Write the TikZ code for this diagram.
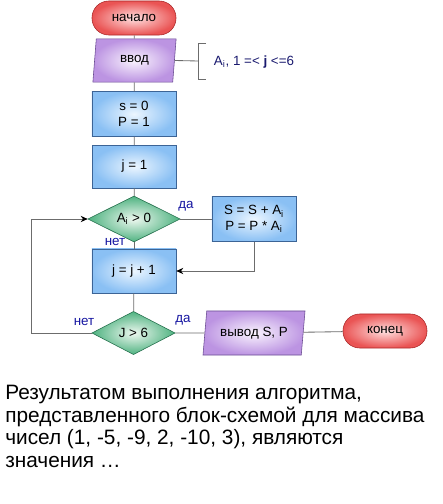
\documentclass[tikz,border=0pt]{standalone}
\usepackage{fontspec}
\setmainfont{Liberation Sans}
\usetikzlibrary{shapes.geometric,arrows.meta}

\definecolor{termout}{RGB}{234,84,84}
\definecolor{termin}{RGB}{255,225,225}
\definecolor{termedge}{RGB}{170,40,40}
\definecolor{ioout}{RGB}{188,148,226}
\definecolor{ioin}{RGB}{250,244,254}
\definecolor{ioedge}{RGB}{105,75,145}
\definecolor{opout}{RGB}{138,192,244}
\definecolor{opin}{RGB}{236,246,255}
\definecolor{opedge}{RGB}{60,100,150}
\definecolor{ifout}{RGB}{78,178,128}
\definecolor{ifin}{RGB}{238,248,240}
\definecolor{ifedge}{RGB}{35,110,75}
\definecolor{yesno}{RGB}{20,20,160}
\definecolor{note}{RGB}{25,25,110}

\begin{document}
\begin{tikzpicture}[x=0.025cm,y=-0.025cm,
  every node/.style={font=\fontsize{9.5}{11}\selectfont},
  term/.style={draw=termedge,rounded corners=0.42cm,minimum width=2.1cm,minimum height=0.85cm,inner color=termin,outer color=termout},
  iobox/.style={trapezium,trapezium left angle=80,trapezium right angle=100,trapezium stretches body,draw=ioedge,inner color=ioin,outer color=ioout,minimum height=1.08cm},
  opbox/.style={draw=opedge,minimum width=2.1cm,inner color=opin,outer color=opout,align=center},
  ifbox/.style={diamond,draw=ifedge,inner color=ifin,outer color=ifout,inner sep=0pt},
  flow/.style={draw=gray!85!black,line width=0.6pt},
  arr/.style={flow,-{Stealth[length=5pt,width=4.5pt,black]}},
  yn/.style={text=yesno}
]
\useasboundingbox (0,0) rectangle (442,504);

\node[term] (start) at (134,18) {начало};
\node[iobox,minimum width=2.08cm] (input) at (134.5,60.5) {ввод};
\node[opbox,minimum height=1.12cm] (init) at (134,114) {s = 0\\P = 1};
\node[opbox,minimum height=1.07cm] (jone) at (134.5,166.5) {j = 1};
\node[ifbox,minimum width=2.3cm,minimum height=1.05cm] (condA) at (134,219) {A\textsubscript{i} > 0};
\node[opbox,minimum height=1.12cm] (upd) at (254,219) {S = S + A\textsubscript{i}\\P = P * A\textsubscript{i}};
\node[opbox,minimum height=1.1cm] (jinc) at (134,271) {j = j + 1};
\node[ifbox,minimum width=2.08cm,minimum height=1.08cm] (condJ) at (133.5,333) {J > 6};
\node[iobox,minimum width=2.55cm,minimum height=1.1cm] (output) at (254,333) {вывод S, P};
\node[term] (stop) at (385,331) {конец};

\node[yn] (yesA) at (186,206) {да};
\node[yn] (noA) at (115,242) {нет};
\node[yn] (noJ) at (84,322) {нет};
\node[yn] (yesJ) at (183,320) {да};

% comment bracket
\coordinate (brk) at (198,61);
\draw[flow] (input.east) -- (brk);
\draw[flow] (206,43) -- (198,43) -- (198,79) -- (206,79);
\node[anchor=west,text=note] (arr) at (209,62) {A\textsubscript{i}, 1 =< \textbf{j} <=6};

\draw[flow] (start) -- (input);
\draw[flow] (input) -- (init);
\draw[flow] (init) -- (jone);
\draw[flow] (jone) -- (condA);
\draw[flow] (condA) -- (upd);
\draw[arr] (upd.south) |- (jinc.east);
\draw[flow] (condA) -- (jinc);
\draw[flow] (jinc) -- (condJ);
\coordinate (loop) at (31,333);
\draw[arr] (condJ.west) -- (loop) |- (condA.west);
\draw[flow] (condJ) -- (output);
\draw[flow] (output) -- (stop);

\node[anchor=north west,align=left,inner sep=0pt,font=\fontsize{14.8}{16}\selectfont] (task) at (5,385)
  {Результатом выполнения алгоритма,\\представленного блок-схемой для массива\\чисел (1, -5, -9, 2, -10, 3), являются\\значения …};
\end{tikzpicture}
\end{document}
